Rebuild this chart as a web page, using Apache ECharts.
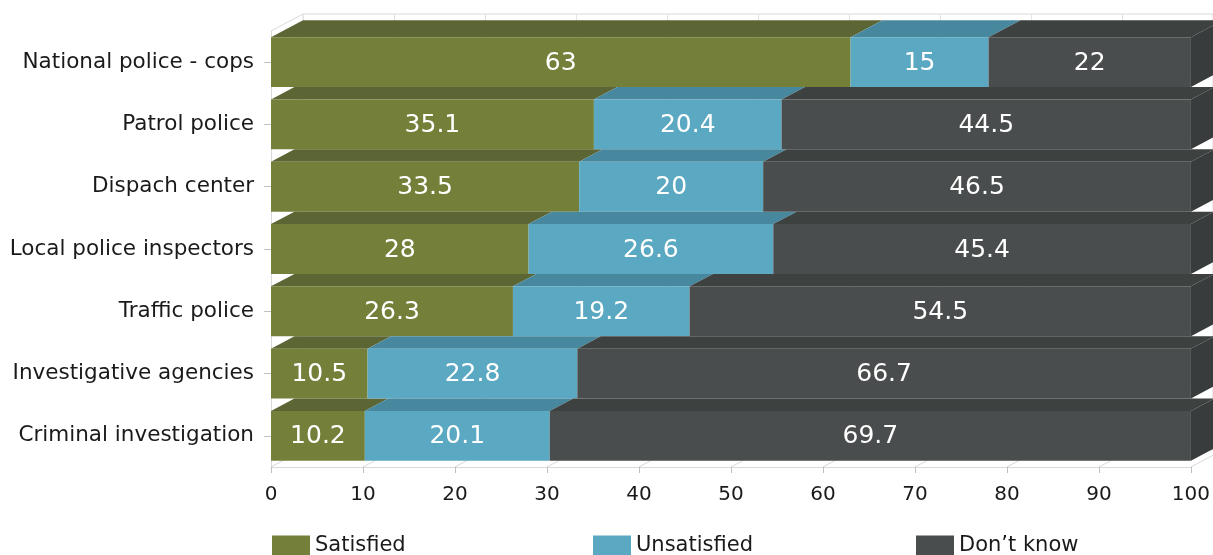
<!DOCTYPE html>
<html>
<head>
<meta charset="utf-8">
<script src="https://cdn.jsdelivr.net/npm/echarts@6/dist/echarts.min.js"></script>
<style>
html,body{margin:0;padding:0;background:#fff}
#chart{width:1213px;height:555px}
</style>
</head>
<body>
<div id="chart"></div>
<script>
var categories = ['National police - cops','Patrol police','Dispach center','Local police inspectors','Traffic police','Investigative agencies','Criminal investigation'];
var satisfied = [63,35.1,33.5,28,26.3,10.5,10.2];
var unsatisfied = [15,20.4,20,26.6,19.2,22.8,20.1];
var dontKnow = [22,44.5,46.5,45.4,54.5,66.7,69.7];
var xTicks = [0,10,20,30,40,50,60,70,80,90,100];

var DX = 32, DY = 17; // depth of the fake 3d

// stack the rows: [start, end, categoryIndex, value]
function stacked(vals, below){
	return vals.map(function(v,i){
		var s = 0;
		below.forEach(function(b){ s += b[i]; });
		return [s, s+v, i, v];
	});
}

function makeRender(front, top, side){
	return function(params, api){
		var s = api.value(0), e = api.value(1), c = api.value(2);
		var p0 = api.coord([s, c]), p1 = api.coord([e, c]);
		var band = api.size([0,1])[1];
		var h = band*0.8;
		var yt = p0[1]-h/2, yb = p0[1]+h/2;
		// only the part of the top face not hidden by the row above
		var k = c === 0 ? 1 : Math.min(1,(band-h)/DY);
		var children = [
			{type:'polygon', shape:{points:[[p0[0],yt],[p1[0],yt],[p1[0]+DX*k,yt-DY*k],[p0[0]+DX*k,yt-DY*k]]}, style:{fill:top}},
			{type:'rect', shape:{x:p0[0],y:yt,width:p1[0]-p0[0],height:h}, style:{fill:front}}
		];
		if(side){
			children.push({type:'polygon', shape:{points:[[p1[0],yt],[p1[0]+DX,yt-DY],[p1[0]+DX,yb-DY],[p1[0],yb]]}, style:{fill:side}});
		}
		children.push({type:'text', x:(p0[0]+p1[0])/2, y:p0[1]+1,
			style:{text:String(api.value(3)), fill:'#fff', font:'25px "DejaVu Sans"', align:'center', verticalAlign:'middle'}});
		return {type:'group', children:children};
	};
}

var myChart = echarts.init(document.getElementById('chart'));
var legendText = {color:'#1a1a1a', fontSize:21, fontFamily:'DejaVu Sans'};
var option = {
	backgroundColor:'#fff',
	animation:false,
	textStyle:{fontFamily:'DejaVu Sans'},
	grid:[
		{left:271, top:31, width:923, height:436},
		{left:303, top:14, width:923, height:436, show:true, borderColor:'#d9d9d9', borderWidth:1, backgroundColor:'#fff'}
	],
	legend:[
		{data:['Satisfied'], left:272, top:535, padding:0, icon:'rect', itemWidth:38, itemHeight:20, textStyle:legendText},
		{data:['Unsatisfied'], left:593, top:535, padding:0, icon:'rect', itemWidth:38, itemHeight:20, textStyle:legendText},
		{data:['Don\u2019t know'], left:916, top:535, padding:0, icon:'rect', itemWidth:38, itemHeight:20, textStyle:legendText}
	],
	xAxis:[
		{
			gridIndex:0, type:'value', min:0, max:100, interval:10,
			axisLine:{show:true, lineStyle:{color:'#d9d9d9'}},
			axisTick:{show:true, length:6, lineStyle:{color:'#bfbfbf'}},
			axisLabel:{color:'#1a1a1a', fontSize:20, margin:18},
			splitLine:{show:false}
		},
		{
			gridIndex:1, type:'value', min:0, max:100, interval:10,
			axisLine:{show:false}, axisTick:{show:false}, axisLabel:{show:false},
			splitLine:{show:true, lineStyle:{color:'#e3e3e3'}}
		}
	],
	yAxis:[
		{
			gridIndex:0, type:'category', inverse:true, data:categories,
			axisLine:{show:true, lineStyle:{color:'#d9d9d9'}},
			axisTick:{show:true, alignWithLabel:true, length:7, lineStyle:{color:'#bfbfbf'}},
			axisLabel:{color:'#1a1a1a', fontSize:21.5, margin:17}
		},
		{gridIndex:1, type:'category', data:categories, show:false}
	],
	series:[
		{
			name:'floor', type:'custom', z:1, silent:true, clip:false,
			data:xTicks,
			encode:{x:0},
			renderItem:function(params, api){
				var v = api.value(0);
				var cs = params.coordSys;
				var x = api.coord([v, 0])[0];
				var yb = cs.y+cs.height;
				var kids = [{type:'line', shape:{x1:x,y1:yb,x2:x+DX,y2:yb-DY}, style:{stroke:'#d9d9d9', lineWidth:1}}];
				if(v === xTicks[0]){
					kids.push({type:'line', shape:{x1:x,y1:cs.y,x2:x+DX,y2:cs.y-DY}, style:{stroke:'#d9d9d9', lineWidth:1}});
				}
				return {type:'group', children:kids};
			}
		},
		{
			name:'Satisfied', type:'custom', z:3, clip:false,
			itemStyle:{color:'#74803a'},
			data:stacked(satisfied, []),
			encode:{x:[0,1], y:2},
			renderItem:makeRender('#74803a','#5c6634',null)
		},
		{
			name:'Unsatisfied', type:'custom', z:3, clip:false,
			itemStyle:{color:'#5aa8c1'},
			data:stacked(unsatisfied, [satisfied]),
			encode:{x:[0,1], y:2},
			renderItem:makeRender('#5aa8c1','#48889f',null)
		},
		{
			name:'Don\u2019t know', type:'custom', z:3, clip:false,
			itemStyle:{color:'#4a4d4d'},
			data:stacked(dontKnow, [satisfied, unsatisfied]),
			encode:{x:[0,1], y:2},
			renderItem:makeRender('#4a4d4d','#3d4140','#393c3c')
		}
	]
};
myChart.setOption(option);
</script>
</body>
</html>
